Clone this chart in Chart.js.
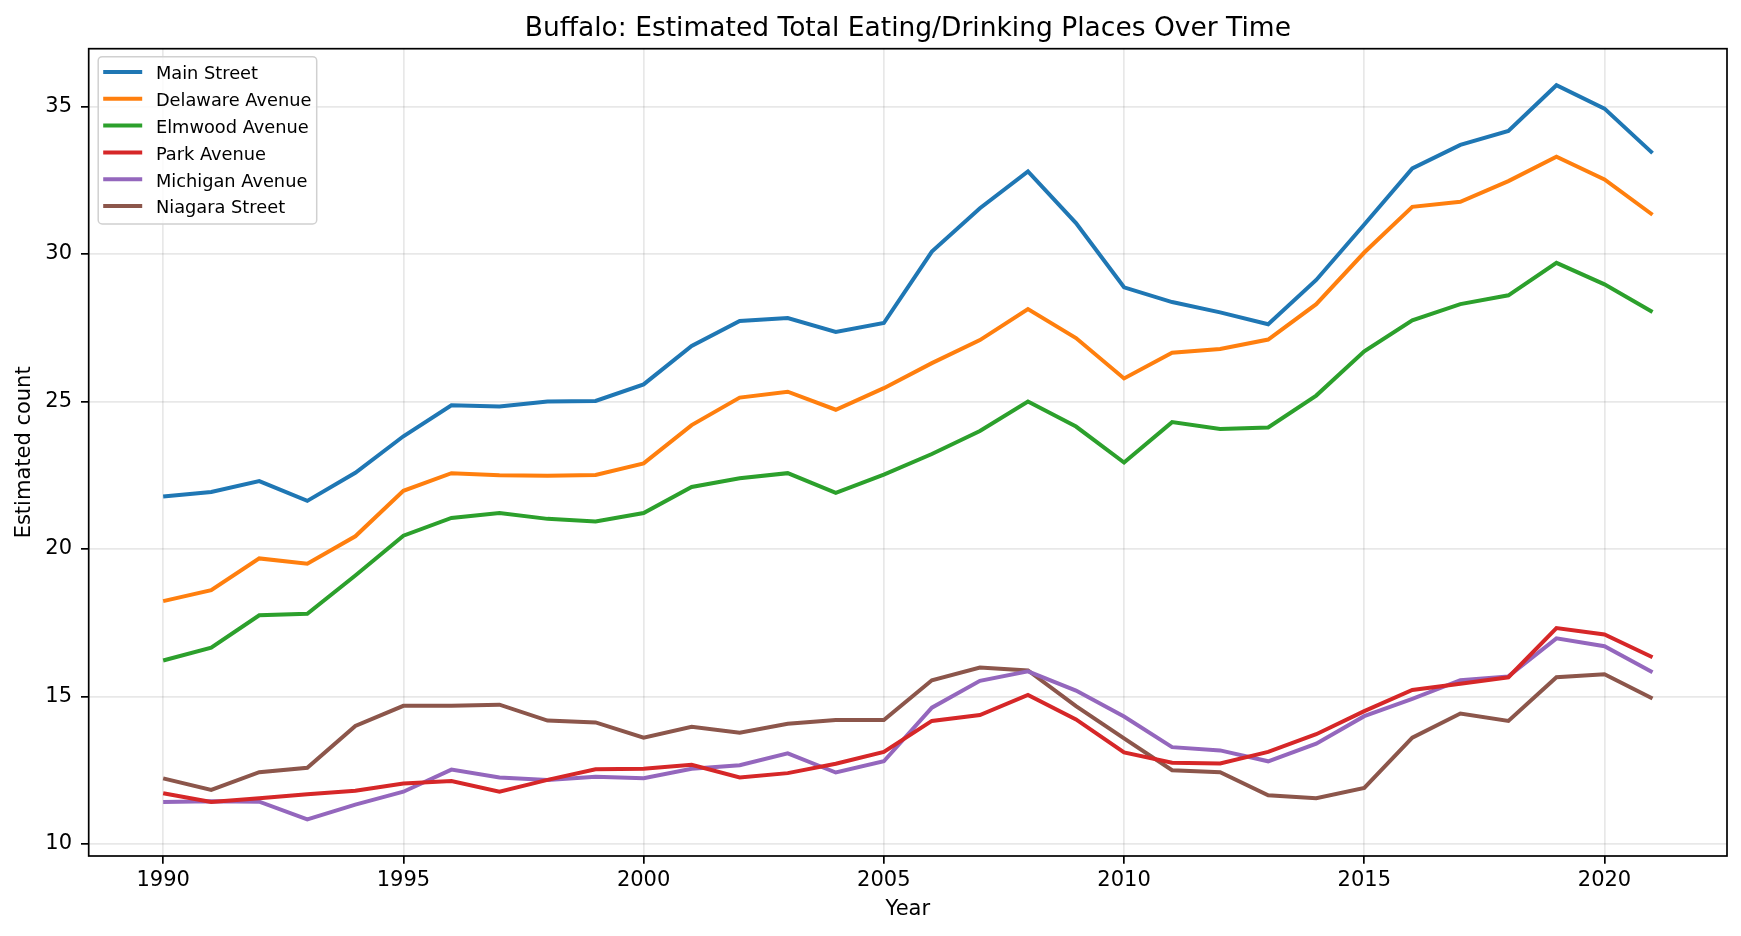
<!DOCTYPE html>
<html>
<head>
<meta charset="utf-8">
<script src="https://cdn.jsdelivr.net/npm/chart.js@4"></script>
<style>
  html, body { margin: 0; padding: 0; background: #fff; }
  .wrap { width: 1741px; height: 936px; position: relative; }
</style>
</head>
<body>
<div class="wrap"><canvas id="chart"></canvas></div>
<script>
const years = [1990, 1991, 1992, 1993, 1994, 1995, 1996, 1997, 1998, 1999,
  2000, 2001, 2002, 2003, 2004, 2005, 2006, 2007, 2008, 2009,
  2010, 2011, 2012, 2013, 2014, 2015, 2016, 2017, 2018, 2019, 2020, 2021];

const mainStreet = [21.78, 21.93, 22.3, 21.63, 22.58, 23.82, 24.87, 24.83, 25.0, 25.02,
  25.58, 26.88, 27.73, 27.83, 27.36, 27.66, 30.08, 31.55, 32.8, 31.05,
  28.87, 28.37, 28.02, 27.62, 29.12, 31.0, 32.9, 33.7, 34.17, 35.72, 34.93, 33.42];
const delawareAve = [18.23, 18.6, 19.68, 19.5, 20.43, 21.97, 22.57, 22.5, 22.48, 22.51,
  22.9, 24.2, 25.13, 25.33, 24.72, 25.45, 26.3, 27.08, 28.13, 27.15,
  25.78, 26.65, 26.78, 27.1, 28.3, 30.05, 31.6, 31.77, 32.47, 33.3, 32.53, 31.33];
const elmwoodAve = [16.22, 16.65, 17.75, 17.8, 19.1, 20.45, 21.05, 21.22, 21.02, 20.93,
  21.22, 22.1, 22.4, 22.57, 21.9, 22.52, 23.22, 24.0, 25.0, 24.15,
  22.93, 24.3, 24.07, 24.12, 25.2, 26.7, 27.75, 28.3, 28.6, 29.7, 28.97, 28.03];
const parkAve = [11.72, 11.42, 11.55, 11.68, 11.8, 12.05, 12.13, 11.77, 12.17, 12.53,
  12.55, 12.68, 12.25, 12.4, 12.72, 13.12, 14.17, 14.37, 15.05, 14.22,
  13.1, 12.75, 12.73, 13.12, 13.72, 14.5, 15.22, 15.43, 15.65, 17.32, 17.1, 16.33];
const michiganAve = [11.42, 11.45, 11.43, 10.83, 11.33, 11.77, 12.52, 12.25, 12.17, 12.28,
  12.23, 12.55, 12.67, 13.07, 12.42, 12.8, 14.62, 15.53, 15.85, 15.2,
  14.32, 13.28, 13.17, 12.8, 13.4, 14.33, 14.92, 15.55, 15.68, 16.97, 16.7, 15.82];
const niagaraSt = [12.22, 11.83, 12.43, 12.58, 14.0, 14.68, 14.68, 14.72, 14.18, 14.12,
  13.6, 13.97, 13.77, 14.07, 14.2, 14.2, 15.55, 15.98, 15.88, 14.67,
  13.58, 12.5, 12.43, 11.65, 11.55, 11.9, 13.6, 14.42, 14.17, 15.65, 15.75, 14.93];

const seriesNames = ["Main Street", "Delaware Avenue", "Elmwood Avenue", "Park Avenue", "Michigan Avenue", "Niagara Street"];
const seriesValues = [mainStreet, delawareAve, elmwoodAve, parkAve, michiganAve, niagaraSt];
const seriesColors = ["#1f77b4", "#ff7f0e", "#2ca02c", "#d62728", "#9467bd", "#8c564b"];

const xTicks = [1990, 1995, 2000, 2005, 2010, 2015, 2020];
const yTicks = [10, 15, 20, 25, 30, 35];

const titleText = "Buffalo: Estimated Total Eating/Drinking Places Over Time";
const FONT = "'DejaVu Sans', sans-serif";
const LINE_W = 4;

// frame, title and the legend box in the upper left
const decorPlugin = {
  id: "decor",
  afterDraw(chart) {
    const ctx = chart.ctx, a = chart.chartArea;
    ctx.save();
    ctx.strokeStyle = "#000";
    ctx.lineWidth = 1.7;
    ctx.strokeRect(a.left, a.top, a.right - a.left, a.bottom - a.top);

    ctx.fillStyle = "#000";
    ctx.font = "26.5px " + FONT;
    ctx.textAlign = "center";
    ctx.textBaseline = "alphabetic";
    ctx.fillText(titleText, (a.left + a.right) / 2, 36);

    const bx = a.left + 9.5, by = a.top + 8, bw = 218.5, rowH = 26.8;
    const bh = 167.3;
    ctx.fillStyle = "rgba(255,255,255,0.8)";
    ctx.strokeStyle = "#d0d0d0";
    ctx.lineWidth = 1.5;
    ctx.beginPath();
    ctx.roundRect(bx, by, bw, bh, 4);
    ctx.fill();
    ctx.stroke();

    ctx.font = "17.8px " + FONT;
    ctx.textAlign = "left";
    chart.data.datasets.forEach((ds, i) => {
      const cy = by + 15.3 + i * rowH;
      ctx.strokeStyle = ds.borderColor;
      ctx.lineWidth = LINE_W;
      ctx.beginPath();
      ctx.moveTo(bx + 5, cy);
      ctx.lineTo(bx + 44, cy);
      ctx.stroke();
      ctx.fillStyle = "#000";
      ctx.fillText(ds.label, bx + 57.7, cy + 7.3);
    });
    ctx.restore();
  }
};

const gridOpts = {
  color: "rgba(0,0,0,0.09)",
  lineWidth: 1.7,
  tickColor: "#000",
  tickWidth: 1.7,
  tickLength: 7.7,
  drawTicks: true
};

const ctx = document.getElementById("chart").getContext("2d");
const chart = new Chart(ctx, {
  type: "line",
  data: {
    datasets: seriesNames.map((name, i) => ({
      label: name,
      data: years.map((y, j) => ({ x: y, y: seriesValues[i][j] })),
      borderColor: seriesColors[i],
      backgroundColor: seriesColors[i],
      borderWidth: LINE_W,
      pointRadius: 0,
      tension: 0,
      fill: false
    }))
  },
  options: {
    responsive: true,
    maintainAspectRatio: false,
    animation: false,
    layout: { padding: { top: 48.7, right: 14, bottom: 10, left: 0 } },
    plugins: {
      legend: { display: false },
      title: { display: false },
      tooltip: { enabled: false }
    },
    scales: {
      x: {
        type: "linear",
        min: 1988.45,
        max: 2022.55,
        afterBuildTicks: axis => { axis.ticks = xTicks.map(v => ({ value: v })); },
        afterFit: axis => { axis.height = 70; },
        ticks: {
          color: "#000",
          font: { family: FONT, size: 21 },
          padding: 4,
          maxRotation: 0,
          autoSkip: false,
          callback: v => String(v)
        },
        grid: gridOpts,
        border: { display: false },
        title: { display: true, text: "Year", color: "#000", font: { family: FONT, size: 21 }, padding: { top: 0, bottom: 4 } }
      },
      y: {
        type: "linear",
        min: 9.59,
        max: 36.96,
        afterBuildTicks: axis => { axis.ticks = yTicks.map(v => ({ value: v })); },
        afterFit: axis => { axis.width = 88.7; },
        ticks: {
          color: "#000",
          font: { family: FONT, size: 21 },
          padding: 9,
          autoSkip: false,
          callback: v => String(v)
        },
        grid: gridOpts,
        border: { display: false },
        title: { display: true, text: "Estimated count", color: "#000", font: { family: FONT, size: 21 }, padding: { top: 11.5, bottom: 0 } }
      }
    }
  },
  plugins: [decorPlugin]
});
</script>
</body>
</html>
